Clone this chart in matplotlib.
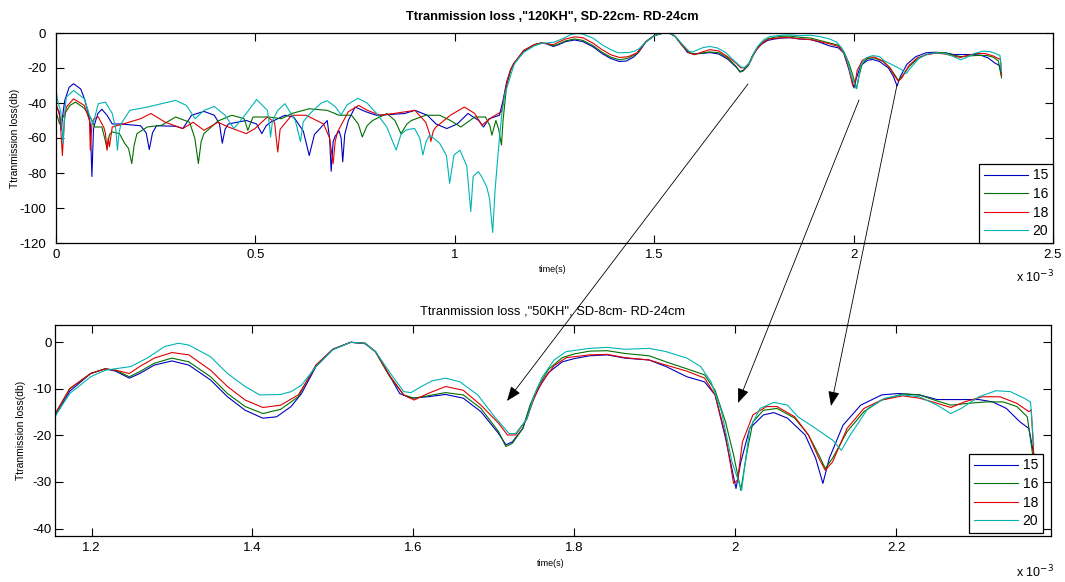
import numpy as np
import matplotlib
matplotlib.use('Agg')
import matplotlib.pyplot as plt
from matplotlib.patches import FancyArrowPatch

plt.rcParams['font.family'] = ['Liberation Sans', 'DejaVu Sans']
plt.rcParams['axes.unicode_minus'] = False

# time in units of 1e-3 s, loss in dB
labels = ['15', '16', '18', '20']
colors = ['#0000c0', '#007000', '#e00000', '#00b4b4']

# noisy early part, only in the 120KH plot
early_15 = [(0, -42), (0.008, -45), (0.013, -55.6), (0.018, -45), (0.022, -38.5), (0.033, -31), (0.044, -29),
            (0.062, -32), (0.072, -38), (0.079, -44), (0.086, -52), (0.09, -82), (0.094, -55), (0.097, -52),
            (0.105, -46), (0.115, -43.6), (0.128, -47), (0.141, -52),
            (0.163, -52), (0.212, -53), (0.226, -57), (0.234, -66.6), (0.242, -57), (0.252, -53), (0.30, -53.3),
            (0.318, -54.6), (0.34, -47), (0.371, -44.8), (0.397, -47), (0.41, -52), (0.417, -63), (0.424, -55),
            (0.432, -52), (0.477, -50), (0.503, -52), (0.516, -57.5), (0.527, -53), (0.538, -51), (0.574, -47),
            (0.596, -48), (0.62, -56), (0.635, -70), (0.648, -58), (0.662, -54.6), (0.68, -50), (0.686, -60),
            (0.69, -79), (0.695, -62), (0.70, -59), (0.71, -56), (0.715, -60), (0.719, -73.6), (0.724, -58),
            (0.733, -50), (0.75, -42.3), (0.777, -45), (0.803, -47), (0.83, -46.7), (0.874, -46), (0.90, -44.2),
            (0.931, -47), (0.953, -52), (0.98, -54.6), (1.006, -52), (1.033, -46), (1.06, -50), (1.072, -53.7),
            (1.086, -49), (1.112, -47), (1.121, -38.5), (1.13, -28), (1.14, -21), (1.148, -17.5)]
early_16 = [(0, -45), (0.009, -52), (0.022, -46), (0.035, -41.4), (0.049, -39.5), (0.071, -43), (0.088, -49),
            (0.097, -53.7), (0.115, -53.7), (0.122, -60), (0.128, -66), (0.134, -58), (0.141, -56.5),
            (0.159, -57.5), (0.172, -63), (0.182, -66), (0.19, -74.6), (0.196, -64), (0.203, -57.5),
            (0.229, -53.7), (0.265, -52.7), (0.30, -48), (0.335, -51), (0.348, -60), (0.357, -74.6), (0.364, -62),
            (0.371, -57.5), (0.406, -50.3), (0.441, -47), (0.472, -49), (0.481, -55.6), (0.494, -48), (0.534, -48),
            (0.565, -49), (0.591, -46), (0.635, -43.3), (0.68, -44.2), (0.71, -47), (0.741, -47), (0.758, -52),
            (0.768, -59.4), (0.78, -53), (0.794, -50), (0.83, -46), (0.85, -50), (0.865, -57.5), (0.88, -52),
            (0.891, -50), (0.927, -47), (0.962, -47), (0.989, -50), (1.015, -53.7), (1.05, -48), (1.077, -48),
            (1.088, -53), (1.093, -58.4), (1.103, -50), (1.11, -55), (1.117, -64), (1.121, -50), (1.13, -30),
            (1.14, -21.5), (1.148, -17.5)]
early_18 = [(0, -40), (0.01, -48), (0.016, -70), (0.021, -50), (0.026, -42.3), (0.044, -37.6), (0.071, -41.4),
            (0.084, -50), (0.086, -67), (0.09, -52), (0.095, -49), (0.106, -48), (0.12, -54), (0.124, -57.5),
            (0.128, -67), (0.131, -60), (0.134, -65), (0.141, -53.7), (0.168, -52), (0.212, -49), (0.238, -46),
            (0.274, -51), (0.318, -54.6), (0.344, -51), (0.371, -55.6), (0.406, -51), (0.432, -53.7),
            (0.477, -57.5), (0.499, -54.6), (0.53, -48), (0.548, -51), (0.556, -68), (0.562, -55), (0.591, -47),
            (0.627, -47), (0.671, -52), (0.686, -60), (0.695, -74.6), (0.70, -62), (0.706, -56.5), (0.733, -45),
            (0.759, -41.4), (0.781, -44.2), (0.812, -47), (0.847, -46), (0.90, -44.2), (0.927, -51), (0.936, -57),
            (0.94, -62), (0.946, -56), (0.953, -53.7), (0.989, -47), (1.024, -42.3), (1.05, -46), (1.068, -52.7),
            (1.094, -48), (1.117, -45), (1.124, -36), (1.132, -27), (1.14, -21), (1.148, -17.3)]
early_20 = [(0, -32), (0.004, -38.5), (0.012, -45), (0.018, -63), (0.022, -45), (0.026, -36.6), (0.044, -32.8),
            (0.071, -37.6), (0.084, -47), (0.093, -52), (0.106, -40.4), (0.124, -39.5), (0.141, -46), (0.15, -55),
            (0.154, -67), (0.158, -57), (0.163, -52), (0.185, -44.2), (0.229, -42.3), (0.265, -40.4), (0.30, -38.5),
            (0.327, -41.4), (0.349, -49), (0.371, -44.2), (0.397, -42), (0.424, -47), (0.446, -54.6), (0.477, -46),
            (0.503, -38), (0.53, -44.2), (0.535, -52), (0.538, -59.4), (0.543, -50), (0.556, -44.2), (0.574, -40.4),
            (0.60, -50), (0.613, -62), (0.62, -50.7), (0.637, -46), (0.665, -40), (0.68, -38.7), (0.70, -42),
            (0.715, -46.8), (0.73, -41), (0.757, -37.3), (0.78, -40), (0.803, -45.8), (0.829, -53.5),
            (0.853, -66.9), (0.865, -58), (0.878, -55.4), (0.899, -54.5), (0.912, -60), (0.92, -69.7),
            (0.928, -62), (0.937, -58.3), (0.962, -63), (0.979, -70), (0.987, -85.9), (0.998, -69.7),
            (1.013, -67), (1.03, -76), (1.04, -102), (1.046, -82), (1.059, -79.2), (1.067, -82), (1.08, -87.8),
            (1.087, -94.5), (1.095, -114), (1.101, -89.7), (1.11, -65), (1.118, -45.8), (1.126, -34.6),
            (1.139, -25), (1.148, -18.5)]

# later part, the same in both plots
late_15 = [(1.155, -15.8), (1.173, -10.5), (1.199, -6.7), (1.217, -5.7), (1.23, -6.2), (1.247, -7.7), (1.26, -6.7),
           (1.278, -4.9), (1.30, -4.0), (1.321, -4.9), (1.348, -8.1), (1.369, -11.7), (1.391, -14.6),
           (1.413, -16.3), (1.43, -16.0), (1.448, -13.8), (1.461, -11.0), (1.479, -5.2), (1.50, -1.5), (1.522, 0),
           (1.54, -0.3), (1.553, -2.0), (1.57, -7.0), (1.583, -11.0), (1.597, -12.0), (1.618, -11.7),
           (1.64, -11.2), (1.662, -12.0), (1.684, -14.9), (1.706, -19.6), (1.715, -22.0), (1.723, -21.4),
           (1.736, -18.5), (1.745, -14), (1.755, -10), (1.768, -6.5), (1.785, -4.2), (1.80, -3.5), (1.819, -2.9),
           (1.841, -2.7), (1.863, -3.4), (1.893, -3.8), (1.914, -5.2), (1.94, -7.4), (1.962, -8.5), (1.975, -11.3),
           (1.988, -20.6), (2.001, -31.4), (2.007, -25.7), (2.018, -18.5), (2.035, -15.6), (2.048, -15.1),
           (2.065, -16.3), (2.087, -19.9), (2.10, -24.9), (2.109, -30.3), (2.117, -24.9), (2.134, -17.8),
           (2.156, -13.5), (2.182, -11.3), (2.203, -11.0), (2.229, -11.3), (2.251, -12.3), (2.277, -12.3),
           (2.303, -12.3), (2.32, -12.8), (2.337, -14.2), (2.354, -17.1), (2.365, -18.5), (2.371, -24)]
late_16 = [(1.155, -15.3), (1.173, -10), (1.199, -6.7), (1.217, -5.7), (1.23, -6), (1.247, -7.4), (1.26, -6.3),
           (1.278, -4.5), (1.30, -3.4), (1.321, -4.2), (1.348, -7.4), (1.369, -11), (1.391, -13.8), (1.413, -15.3),
           (1.435, -14.4), (1.457, -11.7), (1.466, -8.8), (1.479, -4.9), (1.50, -1.5), (1.522, 0), (1.54, -0.2),
           (1.553, -2.1), (1.57, -7.2), (1.588, -11.3), (1.601, -12), (1.618, -11.5), (1.64, -10.8),
           (1.662, -11.3), (1.684, -14.2), (1.706, -19.2), (1.715, -22.4), (1.723, -21.7), (1.736, -18.5),
           (1.745, -13.5), (1.755, -9.5), (1.768, -5.8), (1.785, -3.3), (1.80, -2.5), (1.819, -1.9), (1.841, -1.8),
           (1.863, -2.4), (1.893, -2.9), (1.914, -4.2), (1.94, -5.7), (1.962, -7), (1.975, -10.3), (1.988, -17.1),
           (1.998, -24.2), (2.007, -31.8), (2.014, -24.2), (2.022, -17.1), (2.035, -14.6), (2.052, -14.2),
           (2.074, -16.3), (2.091, -19.9), (2.104, -24.2), (2.112, -27.1), (2.121, -24.9), (2.139, -19.2),
           (2.16, -14.9), (2.182, -12.4), (2.208, -11.1), (2.229, -11.3), (2.251, -12.6), (2.268, -13.5),
           (2.29, -13.1), (2.312, -12.8), (2.333, -12.8), (2.35, -13.8), (2.363, -16), (2.371, -25.7)]
late_18 = [(1.155, -15.3), (1.173, -9.9), (1.199, -6.7), (1.217, -5.7), (1.23, -6), (1.247, -6.7), (1.26, -5.2),
           (1.278, -3.4), (1.30, -2.2), (1.321, -2.7), (1.348, -6), (1.369, -9.5), (1.391, -12.4), (1.413, -14),
           (1.435, -13.5), (1.457, -11.3), (1.466, -8.8), (1.479, -4.9), (1.50, -1.5), (1.522, 0), (1.54, -0.2),
           (1.553, -2), (1.57, -7), (1.588, -11.3), (1.601, -12.4), (1.618, -11), (1.64, -9.5), (1.662, -10.3),
           (1.684, -13.5), (1.706, -17.4), (1.717, -19.9), (1.727, -19.9), (1.741, -16.5), (1.75, -12),
           (1.76, -8.5), (1.775, -5), (1.79, -3.3), (1.819, -2.7), (1.841, -2.6), (1.863, -3.3), (1.893, -3.8),
           (1.914, -4.9), (1.94, -6.2), (1.962, -7.7), (1.975, -11.3), (1.988, -19.9), (1.998, -30.3),
           (2.003, -29.6), (2.009, -21.4), (2.022, -15.6), (2.039, -13.8), (2.052, -13.8), (2.074, -16),
           (2.091, -19.9), (2.104, -24.9), (2.112, -27.5), (2.121, -25.7), (2.139, -18.5), (2.16, -14.2),
           (2.182, -12.4), (2.208, -11.5), (2.229, -12), (2.251, -13.1), (2.268, -14), (2.285, -12.8),
           (2.307, -11.7), (2.329, -11.7), (2.35, -13.1), (2.365, -14.9), (2.368, -14.5), (2.371, -24)]
late_20 = [(1.155, -15.8), (1.173, -11), (1.199, -7.4), (1.217, -6), (1.249, -5.2), (1.269, -3.4), (1.291, -0.9),
           (1.308, -0.2), (1.321, -0.6), (1.348, -3.1), (1.369, -6.7), (1.391, -9.5), (1.409, -11.3),
           (1.435, -11.2), (1.448, -10.6), (1.461, -9.2), (1.479, -5.2), (1.50, -1.6), (1.522, 0), (1.54, -0.2),
           (1.553, -2), (1.57, -6.3), (1.588, -10.6), (1.597, -10.8), (1.61, -9.5), (1.623, -8.3), (1.64, -7.7),
           (1.658, -8.5), (1.68, -11.3), (1.701, -16), (1.719, -19.6), (1.727, -19.6), (1.741, -16.5),
           (1.75, -11.5), (1.76, -7.5), (1.775, -3.8), (1.79, -2.0), (1.819, -1.3), (1.841, -1.1), (1.863, -1.5),
           (1.893, -1.3), (1.914, -2), (1.94, -3.4), (1.957, -5.2), (1.97, -8.5), (1.983, -14.9), (1.996, -25.7),
           (2.008, -31.8), (2.018, -18.5), (2.031, -14.2), (2.048, -12.9), (2.065, -13.5), (2.078, -16),
           (2.10, -18.5), (2.121, -21), (2.132, -23.2), (2.143, -19.9), (2.165, -14.2), (2.186, -12),
           (2.208, -11.3), (2.229, -11.7), (2.251, -13.5), (2.268, -15.3), (2.281, -14.2), (2.303, -11.7),
           (2.324, -10.4), (2.342, -10.6), (2.359, -12), (2.367, -12.8), (2.371, -22)]

early = [early_15, early_16, early_18, early_20]
late = [late_15, late_16, late_18, late_20]

W, H = 1065, 582
fig = plt.figure(figsize=(W / 100, H / 100), dpi=100)
fig.patch.set_facecolor('white')

def px_axes(l, t, r, b):
    return [l / W, 1 - b / H, (r - l) / W, (b - t) / H]

ax1 = fig.add_axes(px_axes(56, 33, 1053, 243))
ax2 = fig.add_axes(px_axes(55.3, 325.3, 1051, 536))

for e, lt, c, lab in zip(early, late, colors, labels):
    d = np.array(e + lt)
    ax1.plot(d[:, 0], d[:, 1], color=c, lw=0.8, label=lab)
    d2 = np.array(lt)
    ax2.plot(d2[:, 0], d2[:, 1], color=c, lw=0.8, label=lab)

ax1.set_xlim(0, 2.5)
ax1.set_ylim(-120, 0)
ax1.set_xticks([0, 0.5, 1, 1.5, 2, 2.5])
ax1.set_xticklabels(['0', '0.5', '1', '1.5', '2', '2.5'])
ax1.set_yticks(range(-120, 1, 20))

ax2.set_xlim(1.155, 2.3925)
ax2.set_ylim(-41.6, 3.65)
ax2.set_xticks([1.2, 1.4, 1.6, 1.8, 2, 2.2])
ax2.set_xticklabels(['1.2', '1.4', '1.6', '1.8', '2', '2.2'])
ax2.set_yticks(range(-40, 1, 10))

for ax, ypad in [(ax1, 7), (ax2, 2.5)]:
    ax.tick_params(direction='in', top=True, right=True, length=6, width=0.8,
                   labelsize=9.5, colors='black')
    ax.tick_params(axis='y', pad=ypad)
    ax.tick_params(axis='x', pad=4)
    for s in ax.spines.values():
        s.set_linewidth(0.9)

leg_kw = dict(loc='lower right', borderaxespad=0, fancybox=False, edgecolor='black', framealpha=1,
              fontsize=10, handlelength=3.2, handletextpad=0.3, labelspacing=0.33, borderpad=0.35)
leg1 = ax1.legend(bbox_to_anchor=(1.0, 0.0), **leg_kw)
leg2 = ax2.legend(bbox_to_anchor=(0.992, 0.014), **leg_kw)
for leg in (leg1, leg2):
    leg.get_frame().set_linewidth(0.9)

def ftext(x, y, s, **kw):
    fig.text(x / W, 1 - y / H, s, **kw)

ftext(552, 17, 'Ttranmission loss ,"120KH", SD-22cm- RD-24cm', ha='center', va='center',
      fontsize=9.2, fontweight='bold')
ftext(552, 311, 'Ttranmission loss ,"50KH", SD-8cm- RD-24cm', ha='center', va='center', fontsize=9.3)
ftext(553, 270, 'time(s)', ha='center', va='center', fontsize=6.5)
ftext(551, 563, 'time(s)', ha='center', va='center', fontsize=6.5)
ftext(15, 138, 'Ttranmission loss(db)', ha='center', va='center', rotation=90, fontsize=7.5)
ftext(21, 430, 'Ttranmission loss(db)', ha='center', va='center', rotation=90, fontsize=7.5)
ftext(1035, 277, r'x 10$^{-3}$', ha='center', va='center', fontsize=9)
ftext(1035, 572, r'x 10$^{-3}$', ha='center', va='center', fontsize=9)

# arrows from the top plot dips down to the bottom plot
arrows = [((748, 84), (507, 401)), ((859, 100), (738, 403)), ((897, 85), (831, 406))]
for (x0, y0), (x1, y1) in arrows:
    a = FancyArrowPatch((x0 / W, 1 - y0 / H), (x1 / W, 1 - y1 / H), transform=fig.transFigure,
                        arrowstyle='-|>,head_length=0.9,head_width=0.35', mutation_scale=10,
                        color='black', lw=0.6, shrinkA=0, shrinkB=0)
    fig.add_artist(a)

fig.savefig('out.png', dpi=100, facecolor='white')
